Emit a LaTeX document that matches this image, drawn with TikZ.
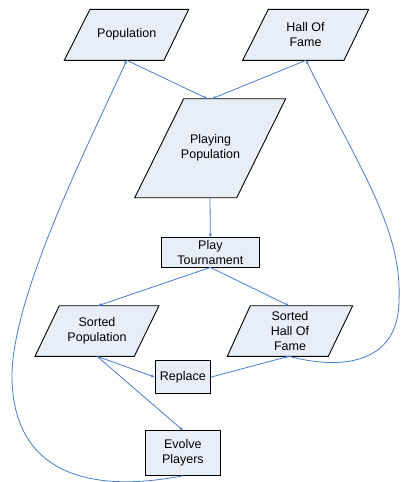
\documentclass[tikz,border=0pt]{standalone}
\usepackage{fontspec}
\setmainfont{Liberation Sans}
\usetikzlibrary{arrows.meta}
\definecolor{boxfill}{HTML}{E8EEF7}
\definecolor{linkblue}{HTML}{4A7CC9}
\begin{document}
\begin{tikzpicture}[x=1pt,y=-1pt,
  shapebox/.style={draw=black,fill=boxfill,line width=0.9pt,line join=miter},
  rectbox/.style={shapebox,inner sep=0pt,align=center,font=\fontsize{12.5}{15}\selectfont},
  label/.style={align=center,font=\fontsize{12.5}{15}\selectfont,inner sep=0pt},
  link/.style={draw=linkblue,line width=0.8pt,-{Stealth[length=4pt,width=3pt]}}]
\useasboundingbox (0,0) rectangle (400,482);
% parallelograms
\draw[shapebox] (90,9.3) -- (188.7,9.3) -- (164,60.3) -- (64.3,60.3) -- cycle;
\node[label] (pop) at (126.7,34.7) {Population};
\coordinate (pop-s) at (126.7,60.3);
\draw[shapebox] (268.3,9.3) -- (368.7,9.3) -- (344,60.3) -- (242.7,60.3) -- cycle;
\node[label] (hof) at (305.5,34.5) {Hall Of\\Fame};
\coordinate (hof-s) at (306,60.3);
\draw[shapebox] (183.7,98.7) -- (285.7,98.7) -- (236.7,197.7) -- (134.7,197.7) -- cycle;
\node[label] (pp) at (210.5,148) {Playing\\Population};
\coordinate (pp-n1) at (207.5,98.7);
\coordinate (pp-n2) at (212,98.7);
\coordinate (pp-s) at (210,197.7);
\draw[shapebox] (59.3,305.7) -- (159,305.7) -- (134.3,356.3) -- (35,356.3) -- cycle;
\node[label] (sp) at (97,331) {Sorted\\Population};
\coordinate (sp-n) at (98,305.7);
\coordinate (sp-s) at (97,356.3);
\draw[shapebox] (250.3,305.7) -- (352.7,305.7) -- (328.3,356.3) -- (227.3,356.3) -- cycle;
\node[label] (shof) at (290,331) {Sorted\\Hall Of\\Fame};
\coordinate (shof-n) at (289,305.7);
\coordinate (shof-s) at (289,356.3);
% rectangles
\node[rectbox,minimum width=97.3pt,minimum height=29.3pt] (pt) at (210.35,252.35) {Play\\Tournament};
\node[rectbox,minimum width=55.7pt,minimum height=33.4pt] (rep) at (182.85,377) {Replace};
\node[rectbox,minimum width=74.3pt,minimum height=44.6pt] (evo) at (182.85,453) {Evolve\\Players};
% connectors
\draw[link] (pop-s) -- (pp-n1);
\draw[link] (hof-s) -- (pp-n2);
\draw[link] (pp-s) -- (pt.north);
\draw[link] (pt.south) -- (sp-n);
\draw[link] (pt.south) -- (shof-n);
\draw[link] (sp-s) -- (rep.west);
\draw[link] (sp-s) -- (evo.north);
\draw[link] (rep.east) -- (shof-s);
\draw[link] (evo.south) .. controls (100,492) and (15,480) .. (12,380)
  .. controls (10,300) and (86.7,148) .. (pop-s);
\draw[link] (shof-s) .. controls (340,370) and (399,365) .. (399,300)
  .. controls (402,228) and (360,170) .. (hof-s);
\end{tikzpicture}
\end{document}
